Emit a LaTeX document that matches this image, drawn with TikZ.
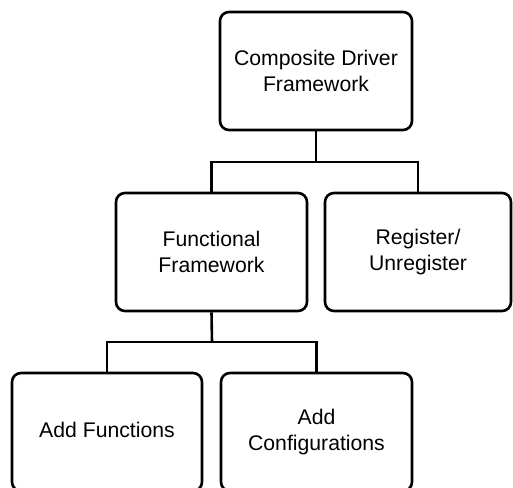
\documentclass[tikz,border=0pt]{standalone}
\usepackage{fontspec}
\setmainfont{Liberation Sans}
\begin{document}
\begin{tikzpicture}[x=1bp,y=-1bp,
  box/.style={draw=black, line width=2.6bp, rounded corners=9bp, align=center,
    inner sep=0pt, font=\fontsize{21.2bp}{26.7bp}\selectfont},
  conn/.style={draw=black, line width=2.6bp}]
\clip (0,0) rectangle (513,488);
\node[box, minimum width=192bp, minimum height=118bp] (top) at (316,71) {Composite Driver\\Framework};
\node[box, minimum width=191bp, minimum height=118bp] (func) at (211.5,252) {Functional\\Framework};
\node[box, minimum width=186bp, minimum height=118bp] (reg) at (418,252) {Register/\\Unregister};
\node[box, minimum width=190bp, minimum height=118bp] (addf) at (107,432) {};
\node at (107,430) [font=\fontsize{21.2bp}{26.7bp}\selectfont] (addft) {Add Functions};
\node[box, minimum width=191bp, minimum height=118bp] (addc) at (316.5,432) {Add\\Configurations};
\coordinate (j1) at (316,162);
\coordinate (j2) at (212,342);
\draw[conn] (top.south) -- (j1);
\draw[conn] (func.north) |- (j1) -| (reg.north);
\draw[conn] (func.south) -- (j2);
\draw[conn] (addf.north) |- (j2) -| (addc.north);
\end{tikzpicture}
\end{document}
